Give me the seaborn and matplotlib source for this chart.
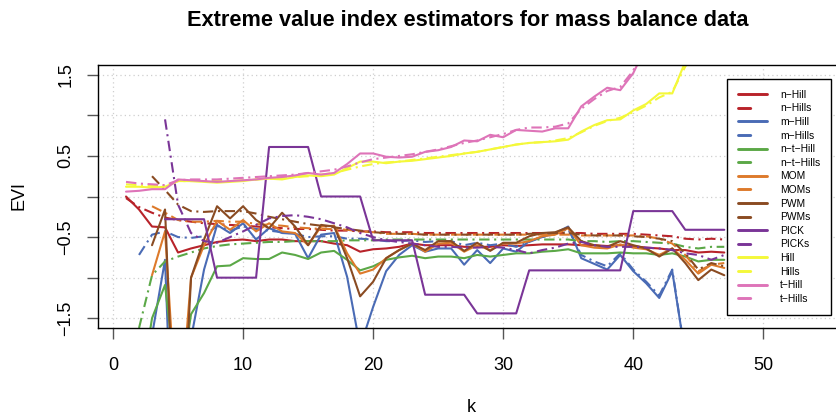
import numpy as np
import pandas as pd
import matplotlib
matplotlib.use("Agg")
import matplotlib.pyplot as plt
from matplotlib.lines import Line2D
import seaborn as sns

nan = np.nan
k = list(range(1, 48))

n_hill = [0.00, -0.16, -0.37, -0.38, -0.69, -0.64, -0.60, -0.56, -0.54, -0.53,
          -0.55, -0.53, -0.53, -0.55, -0.55, -0.55, -0.58, -0.60, -0.68, -0.65,
          -0.64, -0.62, -0.58, -0.60, -0.60, -0.60, -0.62, -0.62, -0.62, -0.60,
          -0.61, -0.60, -0.59, -0.59, -0.59, -0.60, -0.60, -0.61, -0.60, -0.61,
          -0.63, -0.64, -0.66, -0.66, -0.69, -0.68, -0.69]
n_hills = [-0.02, -0.13, -0.20, -0.26, -0.29, -0.31, -0.33, -0.34, -0.35, -0.36,
           -0.37, -0.38, -0.39, -0.40, -0.40, -0.41, -0.42, -0.42, -0.43, -0.43,
           -0.44, -0.44, -0.44, -0.45, -0.45, -0.45, -0.45, -0.45, -0.45, -0.45,
           -0.45, -0.45, -0.45, -0.45, -0.45, -0.45, -0.46, -0.46, -0.46, -0.46,
           -0.47, -0.48, -0.49, -0.52, -0.53, -0.52, -0.53]
m_hill = [nan, nan, -1.71, -0.78, -5.0, -1.75, -0.90, -0.35, -0.45, -0.33,
          -0.53, -0.39, -0.45, -0.46, -0.76, -0.47, -0.45, -0.99, -1.85, -1.36,
          -0.92, -0.72, -0.60, -0.68, -0.64, -0.64, -0.84, -0.66, -0.82, -0.64,
          -0.68, -0.55, -0.50, -0.45, -0.37, -0.76, -0.83, -0.90, -0.72, -0.92,
          -1.07, -1.25, -0.92, -1.95, -2.20, -2.30, -2.30]
m_hills = [nan, -0.72, -0.47, -0.43, -0.50, -0.51, -0.49, -0.36, -0.42, -0.37,
           -0.40, -0.42, -0.44, -0.46, -0.50, -0.49, -0.49, -0.52, -0.52, -0.53,
           -0.55, -0.55, -0.54, -0.56, -0.55, -0.55, -0.60, -0.57, -0.60, -0.58,
           -0.62, -0.56, -0.50, -0.46, -0.40, -0.72, -0.80, -0.86, -0.70, -0.90,
           -1.05, -1.22, -0.90, -1.95, -2.20, -2.30, -2.30]
nt_hill = [nan, -2.5, -1.5, -1.09, -2.5, -1.45, -1.19, -0.86, -0.85, -0.76,
           -0.77, -0.77, -0.69, -0.72, -0.77, -0.69, -0.67, -0.78, -0.91, -0.86,
           -0.78, -0.75, -0.73, -0.76, -0.74, -0.74, -0.76, -0.72, -0.74, -0.72,
           -0.70, -0.70, -0.68, -0.67, -0.65, -0.70, -0.70, -0.70, -0.69, -0.70,
           -0.70, -0.72, -0.70, -0.74, -0.80, -0.78, -0.78]
nt_hills = [nan, -1.62, -0.97, -0.80, -0.74, -0.69, -0.64, -0.61, -0.59, -0.58,
            -0.57, -0.56, -0.56, -0.55, -0.55, -0.55, -0.55, -0.54, -0.54, -0.54,
            -0.53, -0.53, -0.53, -0.53, -0.53, -0.53, -0.53, -0.53, -0.53, -0.53,
            -0.53, -0.53, -0.53, -0.53, -0.53, -0.55, -0.55, -0.56, -0.55, -0.55,
            -0.56, -0.57, -0.58, -0.62, -0.64, -0.62, -0.62]
mom = [nan, nan, -0.97, -0.43, -3.0, -1.0, -0.60, -0.30, -0.41, -0.29,
       -0.43, -0.33, -0.43, -0.45, -0.60, -0.37, -0.36, -0.70, -0.95, -0.90,
       -0.76, -0.66, -0.58, -0.68, -0.58, -0.57, -0.68, -0.60, -0.66, -0.58,
       -0.58, -0.55, -0.49, -0.47, -0.39, -0.60, -0.63, -0.64, -0.59, -0.63,
       -0.65, -0.72, -0.64, -0.78, -0.95, -0.84, -0.88]
moms = [nan, nan, -0.12, -0.20, -0.29, -0.31, -0.31, -0.30, -0.31, -0.31,
        -0.34, -0.35, -0.36, -0.38, -0.39, -0.40, -0.40, -0.41, -0.43, -0.44,
        -0.46, -0.46, -0.46, -0.47, -0.47, -0.47, -0.47, -0.47, -0.47, -0.47,
        -0.47, -0.47, -0.47, -0.47, -0.47, -0.48, -0.48, -0.48, -0.48, -0.48,
        -0.49, -0.52, -0.58, -0.72, -0.92, -0.84, -0.82]
pwm = [nan, nan, -0.60, -0.16, -4.1, -1.0, -0.53, -0.12, -0.27, -0.12,
       -0.29, -0.39, -0.20, -0.37, -0.60, -0.35, -0.37, -0.76, -1.23, -1.05,
       -0.76, -0.66, -0.58, -0.66, -0.55, -0.55, -0.67, -0.57, -0.67, -0.57,
       -0.57, -0.49, -0.45, -0.44, -0.38, -0.55, -0.60, -0.62, -0.55, -0.60,
       -0.64, -0.74, -0.64, -0.82, -1.03, -0.90, -0.97]
pwms = [nan, nan, 0.25, 0.08, -0.10, -0.18, -0.19, -0.18, -0.18, -0.18,
        -0.21, -0.25, -0.28, -0.31, -0.34, -0.36, -0.38, -0.40, -0.42, -0.44,
        -0.45, -0.46, -0.46, -0.47, -0.47, -0.47, -0.47, -0.47, -0.47, -0.47,
        -0.47, -0.46, -0.45, -0.45, -0.45, -0.47, -0.48, -0.48, -0.48, -0.49,
        -0.50, -0.52, -0.55, -0.70, -0.90, -0.82, -0.86]
pick = [nan, nan, nan, -0.28, -0.28, -0.28, -0.28, -1.0, -1.0, -1.0,
        -1.0, 0.61, 0.61, 0.61, 0.61, 0.0, 0.0, 0.0, 0.0, -0.54,
        -0.54, -0.54, -0.54, -1.21, -1.21, -1.21, -1.21, -1.44, -1.44, -1.44,
        -1.44, -0.91, -0.91, -0.91, -0.91, -0.91, -0.91, -0.91, -0.91, -0.18,
        -0.18, -0.18, -0.18, -0.41, -0.41, -0.41, -0.41]
picks = [nan, nan, nan, 0.95, -0.10, -0.45, -0.55, -0.57, -0.50, -0.43,
         -0.35, -0.27, -0.24, -0.23, -0.25, -0.28, -0.33, -0.38, -0.45, -0.50,
         -0.54, -0.56, -0.58, -0.60, -0.62, -0.62, -0.63, -0.63, -0.62, -0.63,
         -0.66, -0.70, -0.66, -0.63, -0.58, -0.56, -0.60, -0.62, -0.62, -0.62,
         -0.63, -0.64, -0.66, -0.70, -0.72, -0.78, -0.72]
hill = [0.12, 0.12, 0.11, 0.12, 0.19, 0.19, 0.18, 0.17, 0.18, 0.19,
        0.21, 0.22, 0.21, 0.24, 0.26, 0.25, 0.27, 0.35, 0.43, 0.43,
        0.41, 0.43, 0.44, 0.46, 0.48, 0.50, 0.53, 0.55, 0.58, 0.61,
        0.64, 0.66, 0.67, 0.68, 0.70, 0.80, 0.88, 0.94, 0.95, 1.06,
        1.14, 1.27, 1.27, 1.66, 1.90, 2.00, 2.10]
hills = [0.15, 0.14, 0.13, 0.13, 0.19, 0.19, 0.19, 0.19, 0.19, 0.20,
         0.21, 0.22, 0.23, 0.24, 0.25, 0.27, 0.29, 0.33, 0.37, 0.40,
         0.42, 0.43, 0.45, 0.47, 0.49, 0.51, 0.53, 0.55, 0.58, 0.61,
         0.64, 0.66, 0.67, 0.69, 0.72, 0.79, 0.87, 0.93, 0.97, 1.04,
         1.12, 1.22, 1.29, 1.60, 1.85, 1.95, 2.05]
t_hill = [0.06, 0.07, 0.09, 0.09, 0.21, 0.20, 0.19, 0.18, 0.19, 0.20,
          0.21, 0.23, 0.24, 0.26, 0.29, 0.27, 0.29, 0.40, 0.53, 0.53,
          0.49, 0.48, 0.49, 0.55, 0.57, 0.61, 0.69, 0.68, 0.76, 0.73,
          0.82, 0.81, 0.80, 0.84, 0.84, 1.11, 1.23, 1.34, 1.31, 1.52,
          1.85, 2.00, 2.10, 2.20, 2.30, 2.40, 2.50]
t_hills = [0.18, 0.16, 0.15, 0.14, 0.20, 0.21, 0.21, 0.21, 0.22, 0.23,
           0.24, 0.25, 0.26, 0.27, 0.29, 0.31, 0.33, 0.37, 0.42, 0.46,
           0.48, 0.50, 0.52, 0.55, 0.58, 0.62, 0.66, 0.69, 0.73, 0.77,
           0.82, 0.85, 0.85, 0.86, 0.90, 1.08, 1.20, 1.30, 1.35, 1.55,
           1.90, 2.05, 2.15, 2.25, 2.35, 2.45, 2.55]

labels = ["n\u2212Hill", "n\u2212Hills", "m\u2212Hill", "m\u2212Hills",
          "n\u2212t\u2212Hill", "n\u2212t\u2212Hills", "MOM", "MOMs",
          "PWM", "PWMs", "PICK", "PICKs", "Hill", "Hills", "t\u2212Hill", "t\u2212Hills"]
series = [n_hill, n_hills, m_hill, m_hills, nt_hill, nt_hills, mom, moms,
          pwm, pwms, pick, picks, hill, hills, t_hill, t_hills]
base_colors = ["#B8232A", "#4A6BB5", "#5BA847", "#DD7A2B",
               "#8A4B22", "#7A3597", "#F4F83A", "#DE74B8"]
colors = [c for c in base_colors for _ in range(2)]

df = pd.concat([pd.DataFrame({"k": k, "EVI": v, "est": lab})
                for v, lab in zip(series, labels)], ignore_index=True)
df = df.dropna()

sns.set_style("white")
plt.rcParams["font.family"] = ["Liberation Sans", "DejaVu Sans"]
plt.rcParams["text.color"] = "black"
plt.rcParams["axes.labelcolor"] = "black"

W, H = 836, 417
fig = plt.figure(figsize=(W / 100, H / 100), dpi=100)
ax = fig.add_axes([98 / W, 1 - 328 / H, (855 - 98) / W, (328 - 65) / H])

palette = dict(zip(labels, colors))
dash_pat = (5, 2.2, 1, 2.2)
dashes = {lab: ("" if i % 2 == 0 else dash_pat) for i, lab in enumerate(labels)}

sns.lineplot(data=df, x="k", y="EVI", hue="est", style="est", hue_order=labels,
             style_order=labels, palette=palette, dashes=dashes, linewidth=1.5,
             legend=False, ax=ax, sort=True, estimator=None)
for ln in ax.get_lines():
    ln.set_solid_joinstyle("round")
    ln.set_solid_capstyle("round")

ax.set_xlim(-1.154, 57.05)
ax.set_ylim(-1.62, 1.62)
ax.set_xticks([0, 10, 20, 30, 40, 50])
yt = [-1.5, -1.0, -0.5, 0.0, 0.5, 1.0, 1.5]
ax.set_yticks(yt)
ax.set_yticklabels(["\u22121.5", "", "\u22120.5", "", "0.5", "", "1.5"])
ax.grid(True, color="#cfcfcf", linestyle=(0, (1, 2.5)), linewidth=0.9)
ax.set_axisbelow(True)
for s in ax.spines.values():
    s.set_color("black")
    s.set_linewidth(1.0)
ax.tick_params(axis="both", direction="out", length=8, width=1.0, color="#555555",
               labelsize=13, labelcolor="black", bottom=True, left=True)
ax.tick_params(axis="x", pad=13)
ax.tick_params(axis="y", pad=9, labelrotation=90)
for t in ax.get_yticklabels():
    t.set_va("center")
ax.set_xlabel("")
ax.set_ylabel("")

fig.text(468 / W, 1 - 21 / H, "Extreme value index estimators for mass balance data",
         ha="center", va="center", fontsize=15.7, fontweight="bold", color="black")
fig.text(471 / W, 1 - 408 / H, "k", ha="center", va="center", fontsize=13, color="black")
fig.text(19 / W, 1 - 196 / H, "EVI", ha="center", va="center", fontsize=13,
         rotation=90, color="black")

handles = []
for i, (lab, c) in enumerate(zip(labels, colors)):
    if i % 2 == 0:
        handles.append(Line2D([0], [0], color=c, lw=2.1, solid_capstyle="round"))
    else:
        handles.append(Line2D([0], [0], color=c, lw=2.1, dashes=(4.2, 40),
                              dash_capstyle="round"))
leg = ax.legend(handles, labels, loc="upper left",
                bbox_to_anchor=(727 / W, 1 - 79 / H), bbox_transform=fig.transFigure,
                fontsize=7.4, frameon=True, fancybox=False, framealpha=1,
                edgecolor="black", borderpad=1.05, handlelength=2.85,
                handletextpad=1.25, labelspacing=0.35, borderaxespad=0)
leg.get_frame().set_linewidth(1.0)

fig.savefig("out.png", dpi=100)
